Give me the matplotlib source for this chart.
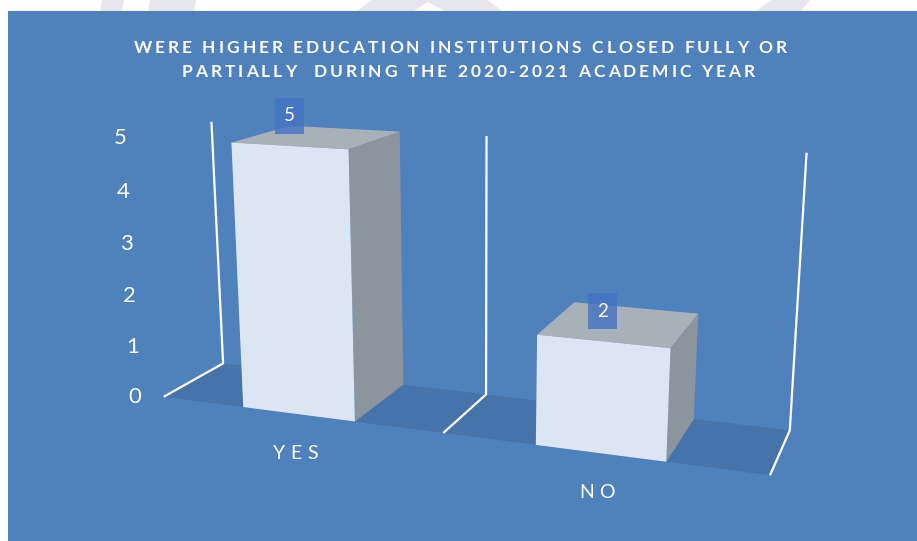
import numpy as np
import matplotlib.pyplot as plt
from matplotlib.patches import Polygon, Rectangle
from matplotlib.font_manager import FontProperties

categories = ["YES", "NO"]
values = [5, 2]
y_ticks = [0, 1, 2, 3, 4, 5]
title_lines = ["WERE HIGHER EDUCATION INSTITUTIONS CLOSED FULLY OR",
               "PARTIALLY  DURING THE 2020-2021 ACADEMIC YEAR"]

# perspective camera: (category position, value, depth) -> pixel
CAM = np.array([
    [2.47605456e+02, -4.49735150e+00, 7.61165355e+01, 1.63683584e+02],
    [4.91726385e+00, -5.31003361e+01, -6.15216232e+00, 3.96784090e+02],
    [-7.21574226e-02, -9.44070636e-03, 7.49263552e-02, 1.00000000e+00]])


def proj(x, y, z):
    p = CAM @ np.array([x, y, z, 1.0])
    return p[0] / p[2], p[1] / p[2]


W, H = 917, 541
fig = plt.figure(figsize=(W / 100, H / 100), dpi=100)
ax = fig.add_axes([0, 0, 1, 1])
ax.set_xlim(0, W)
ax.set_ylim(H, 0)
ax.axis("off")

# faint page artwork peeking out above the chart panel
mark = "#E6E6EE"
for poly in ([(102, 0), (124, 0), (122, 12), (100, 12)],
             [(150, 0), (196, 0), (194, 12), (148, 12)],
             [(372, 0), (488, 0), (503, 12), (355, 12)],
             [(772, 0), (810, 0), (800, 12), (754, 12)]):
    ax.add_patch(Polygon(poly, fc=mark, ec="none", zorder=0))
ax.add_patch(Polygon([(412, 12), (428, 2), (446, 12)], fc="white", ec="none", zorder=0))

panel = "#4F81BD"
ax.add_patch(Rectangle((8, 11), W - 8, H - 11, fc=panel, ec="none", zorder=0))

n = len(categories)
ymax = max(y_ticks)

# floor
floor = [proj(0, 0, 0), proj(n, 0, 0), proj(n, 0, 1), proj(0, 0, 1)]
ax.add_patch(Polygon(floor, closed=True, fc="#4674AA", ec="none", zorder=1))

# wall edges
for i in range(n + 1):
    xs, ys = zip(proj(i, ymax, 1), proj(i, 0, 1), proj(i, 0, 0))
    ax.plot(xs, ys, color="white", lw=1.6, zorder=2, solid_capstyle="butt")

renderer = fig.canvas.get_renderer()


def text_width(s, prop):
    w, _, _ = renderer.get_text_width_height_descent(s + "|", prop, ismath=False)
    wb, _, _ = renderer.get_text_width_height_descent("|", prop, ismath=False)
    return w - wb


def spaced_text(cx, y, s, prop, spacing, color="white"):
    total = text_width(s, prop) + spacing * (len(s) - 1)
    x0 = cx - total / 2
    for i, ch in enumerate(s):
        if ch == " ":
            continue
        x = x0 + text_width(s[:i], prop) + spacing * i
        ax.text(x, y, ch, fontproperties=prop, color=color, ha="left", va="baseline", zorder=6)


# bars
bar_w = 0.4
for i, (cat, v) in enumerate(zip(categories, values)):
    x0, x1 = i + 0.5 - bar_w / 2, i + 0.5 + bar_w / 2
    front = [proj(x0, 0, 0), proj(x1, 0, 0), proj(x1, v, 0), proj(x0, v, 0)]
    side = [proj(x1, 0, 0), proj(x1, 0, 1), proj(x1, v, 1), proj(x1, v, 0)]
    top = [proj(x0, v, 0), proj(x1, v, 0), proj(x1, v, 1), proj(x0, v, 1)]
    ax.add_patch(Polygon(side, fc="#8C959E", ec="none", zorder=3))
    ax.add_patch(Polygon(top, fc="#A9B1B8", ec="none", zorder=3))
    ax.add_patch(Polygon(front, fc="#DCE6F2", ec="none", zorder=4))

    # value label box
    lx, ly = proj(i + 0.5, v, 0)
    ly -= 30
    ax.add_patch(Rectangle((lx - 14.5, ly - 18), 29, 36, fc="#4472C4", alpha=0.8, ec="none", zorder=5))
    ax.text(lx, ly, str(v), color="white", fontsize=13.5, family="Lato", ha="center", va="center", zorder=6)

    # category label
    cx, cy = proj(i + 0.5, 0, 0)
    spaced_text(cx - 3, cy + 45, cat, FontProperties(family="Lato", size=14), 5.5)

# value axis labels
for t in y_ticks:
    tx, ty = proj(0, t, 0)
    ax.text(tx - 22, ty, str(t), color="white", fontsize=16, family="Lato", ha="right", va="center", zorder=6)

# title
tprop = FontProperties(family="Lato", size=12.5, weight="bold")
spaced_text(460, 53, title_lines[0], tprop, 3.0)
spaced_text(468, 77, title_lines[1], tprop, 3.0)

fig.savefig("out.png", dpi=100)
